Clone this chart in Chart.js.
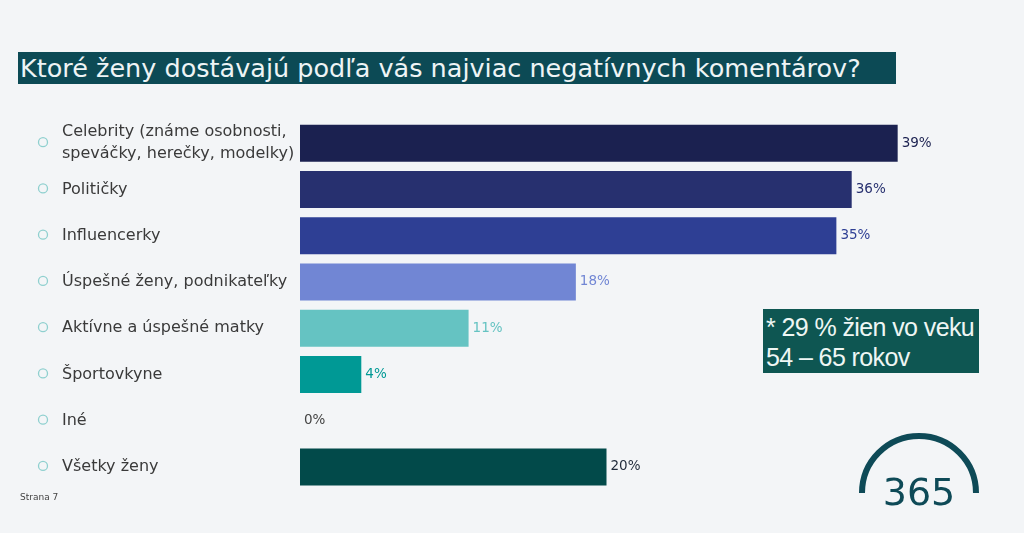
<!DOCTYPE html>
<html>
<head>
<meta charset="utf-8">
<script src="https://cdn.jsdelivr.net/npm/chart.js@4"></script>
<style>
  html, body { margin: 0; padding: 0; background: #f3f5f7; }
  body { width: 1024px; height: 533px; position: relative; overflow: hidden; font-family: "DejaVu Sans", sans-serif; }
  #graf { position: absolute; left: 0; top: 0; }
  .titulok {
    position: absolute; left: 18px; top: 52px; width: 878px; height: 32px;
    background: #0c4a55; color: #eef4f5; font-size: 25.5px; line-height: 32px;
    padding-left: 2px; box-sizing: border-box; white-space: nowrap; letter-spacing: 0px;
  }
  .poznamka {
    position: absolute; left: 763px; top: 309px; width: 216px; height: 64px;
    background: #0e5652; color: #eef6f4; font-family: "Liberation Sans Narrow", "Liberation Sans", sans-serif;
    font-size: 25px; line-height: 30px; padding: 3px 0 0 3px; box-sizing: border-box; letter-spacing: -0.6px;
  }
  .strana { position: absolute; left: 20px; top: 492px; font-size: 9px; color: #444; }
  svg { position: absolute; left: 850px; top: 425px; }
</style>
</head>
<body>
<div class="titulok">Ktoré ženy dostávajú podľa vás najviac negatívnych komentárov?</div>
<canvas id="graf" width="1024" height="533"></canvas>
<div class="poznamka">* 29 % žien vo veku<br>54 – 65 rokov</div>
<div class="strana">Strana 7</div>
<svg width="140" height="100" viewBox="0 0 140 100">
  <path d="M 12 68 A 57 57 0 0 1 126 68" fill="none" stroke="#0e4a57" stroke-width="6"/>
  <text x="69" y="80" text-anchor="middle" font-family="DejaVu Sans, sans-serif" font-size="38" fill="#0e4a57">365</text>
</svg>
<script>
document.addEventListener("DOMContentLoaded", function () {
  // Údaje
  const kategorie = [
    ["Celebrity (známe osobnosti,", "speváčky, herečky, modelky)"],
    "Političky",
    "Influencerky",
    "Úspešné ženy, podnikateľky",
    "Aktívne a úspešné matky",
    "Športovkyne",
    "Iné",
    "Všetky ženy"
  ];
  const hodnoty = [39, 36, 35, 18, 11, 4, 0, 20];
  const farby = ["#1b2150", "#27306f", "#2e3f94", "#7186d4", "#65c3c2", "#009995", "#009995", "#024a4a"];
  const farbyTextu = ["#1b2150", "#27306f", "#2e3f94", "#7186d4", "#65c3c2", "#009995", "#444444", "#1f2a3a"];

  const font = "'DejaVu Sans', sans-serif";

  // popisky kategórií vľavo s krúžkami
  const popiskyPlugin = {
    id: "popisky",
    afterDraw(chart) {
      const ctx = chart.ctx;
      const y = chart.scales.y;
      ctx.save();
      ctx.font = "16px " + font;
      ctx.textBaseline = "middle";
      kategorie.forEach((k, i) => {
        const py = y.getPixelForValue(i);
        ctx.beginPath();
        ctx.strokeStyle = "#8fd0cf";
        ctx.lineWidth = 1.3;
        ctx.arc(43, py - 1, 4.5, 0, Math.PI * 2);
        ctx.stroke();
        ctx.fillStyle = "#3a3a3a";
        if (Array.isArray(k)) {
          ctx.fillText(k[0], 62, py - 11);
          ctx.fillText(k[1], 62, py + 11);
        } else {
          ctx.fillText(k, 62, py);
        }
      });
      ctx.restore();
    }
  };

  // hodnoty za stĺpcami
  const hodnotyPlugin = {
    id: "hodnoty",
    afterDatasetsDraw(chart) {
      const ctx = chart.ctx;
      const meta = chart.getDatasetMeta(0);
      ctx.save();
      ctx.font = "13.5px " + font;
      ctx.textBaseline = "middle";
      meta.data.forEach((bar, i) => {
        ctx.fillStyle = farbyTextu[i];
        ctx.fillText(hodnoty[i] + "%", bar.x + 4, bar.y);
      });
      ctx.restore();
    }
  };

  new Chart(document.getElementById("graf"), {
    type: "bar",
    data: {
      labels: kategorie,
      datasets: [{
        data: hodnoty,
        backgroundColor: farby,
        barPercentage: 0.8,
        categoryPercentage: 1
      }]
    },
    options: {
      indexAxis: "y",
      responsive: false,
      animation: false,
      layout: { padding: { left: 300, right: 111, top: 120, bottom: 43 } },
      plugins: { legend: { display: false }, tooltip: { enabled: false } },
      scales: {
        x: { min: 0, max: 40, display: false },
        y: { display: false }
      }
    },
    plugins: [popiskyPlugin, hodnotyPlugin]
  });
});
</script>
</body>
</html>
